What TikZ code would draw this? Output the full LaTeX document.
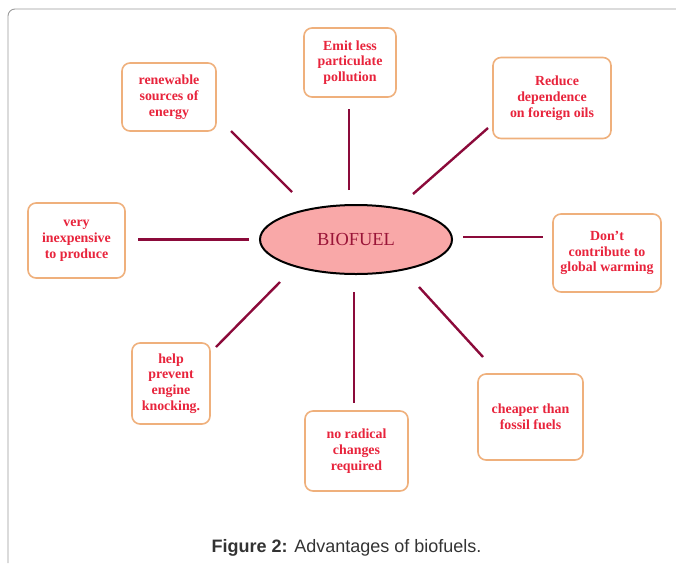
\documentclass[tikz,border=0pt]{standalone}
\usepackage{fontspec}
\setmainfont{Liberation Serif}
\newfontfamily\capfont{Liberation Sans}
\usetikzlibrary{shapes.geometric}
\definecolor{linecol}{HTML}{8B0A3A}
\definecolor{boxtext}{HTML}{E8243C}
\definecolor{boxedge}{HTML}{EFB07C}
\definecolor{ellfill}{HTML}{F9A8A8}
\definecolor{biotext}{HTML}{9A1538}
\definecolor{framecol}{HTML}{9A9A9A}
\definecolor{captext}{HTML}{333333}
\tikzset{
  adv/.style={draw=boxedge, line width=1.6pt, rounded corners=8pt, fill=white,
    text=boxtext, font=\fontsize{13.9}{15.8}\selectfont\bfseries, align=center,
    inner sep=0pt},
  spoke/.style={draw=linecol, line width=2.4pt},
}
\begin{document}
\begin{tikzpicture}[x=1pt,y=-1pt]
\useasboundingbox (0,0) rectangle (676,563);
% frame
\draw[framecol, line width=0.9pt, rounded corners=7pt] (8,563) -- (8,9) -- (676,9);
% centre
\node[ellipse, draw=black, line width=2pt, fill=ellfill, minimum width=192pt, minimum height=69pt,
  text=biotext, font=\fontsize{18.4}{21}\selectfont] (bio) at (356,239.5) {BIOFUEL};
% boxes
\node[adv, minimum width=92pt, minimum height=69pt] (emit) at (350,62.5) {Emit less\\particulate\\pollution};
\node[adv, minimum width=94pt, minimum height=68pt] (renew) at (169,97) {renewable\\sources of\\energy};
\node[adv, minimum width=118pt, minimum height=81pt] (reduce) at (552,98) {\hspace*{10pt}Reduce\\dependence\\on foreign oils};
\node[adv, minimum width=97pt, minimum height=75pt] (cheap1) at (76.5,240.5) {very\\inexpensive\\to produce};
\node[adv, minimum width=108pt, minimum height=78pt] (dont) at (607,253) {Don’t\\contribute to\\global warming};
\node[adv, minimum width=78pt, minimum height=81pt] (help) at (171,383.5) {help\\prevent\\engine\\knocking.};
\node[adv, minimum width=103pt, minimum height=80pt] (radical) at (356.5,451) {no radical\\changes\\required};
\node[adv, minimum width=105pt, minimum height=86pt] (cheap2) at (530.5,417) {cheaper than\\fossil fuels};
% spoke ends
\coordinate (e1a) at (349,190); \coordinate (e1b) at (349,109);
\coordinate (e2a) at (292,192); \coordinate (e2b) at (231,131);
\coordinate (e3a) at (413,194); \coordinate (e3b) at (488,128);
\coordinate (e4a) at (249,239.5); \coordinate (e4b) at (138,239.5);
\coordinate (e5a) at (463,237); \coordinate (e5b) at (543,237);
\coordinate (e6a) at (280,282); \coordinate (e6b) at (216,347);
\coordinate (e7a) at (354,292); \coordinate (e7b) at (354,403);
\coordinate (e8a) at (419,287); \coordinate (e8b) at (483,357);
\draw[spoke] (e1a) -- (e1b);
\draw[spoke] (e2a) -- (e2b);
\draw[spoke] (e3a) -- (e3b);
\draw[spoke] (e4a) -- (e4b);
\draw[spoke] (e5a) -- (e5b);
\draw[spoke] (e6a) -- (e6b);
\draw[spoke] (e7a) -- (e7b);
\draw[spoke] (e8a) -- (e8b);
% caption
\node[text=captext, font=\capfont\fontsize{18}{21}\selectfont] (cap) at (346.5,548) {\textbf{Figure 2:} Advantages of biofuels.};
\end{tikzpicture}
\end{document}
